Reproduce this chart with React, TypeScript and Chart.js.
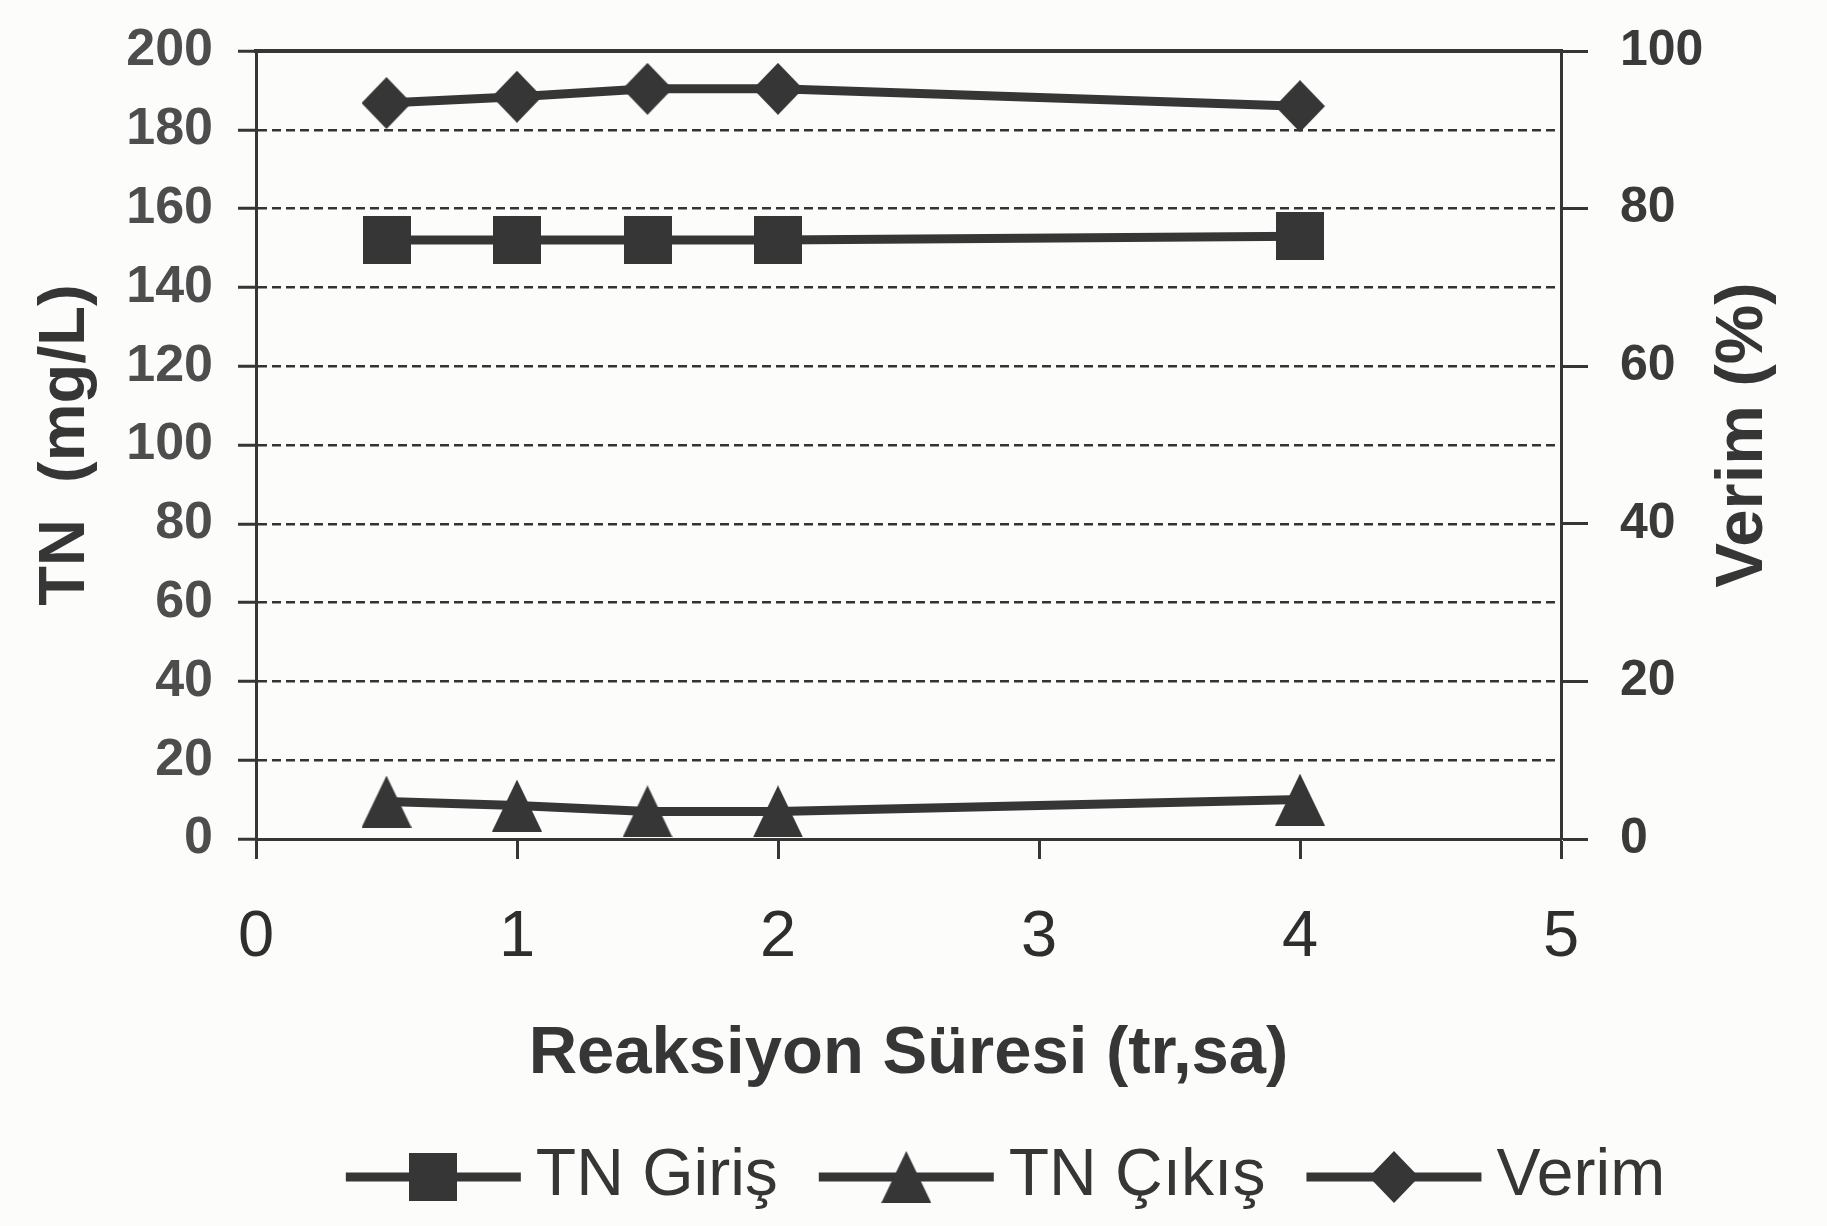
import React, { useEffect, useRef } from 'react';
import { Chart, registerables } from 'chart.js';

Chart.register(...registerables);

// ---- data ----
const times = [0.5, 1, 1.5, 2, 4];
const tnGiris = [152, 152, 152, 152, 153];
const tnCikis = [9.5, 8.5, 7, 7, 10];
const verim = [93.4, 94.2, 95.2, 95.2, 93];
const seriesLabels = ['TN Giriş', 'TN Çıkış', 'Verim'];
const xTitle = 'Reaksiyon Süresi (tr,sa)';
const yLeftTitle = 'TN  (mg/L)';
const yRightTitle = 'Verim (%)';
const xRange = [0, 5];
const yLeftRange = [0, 200];
const yRightRange = [0, 100];

const FONT = '"Liberation Sans", Arial, Helvetica, sans-serif';
const INK = '#363636';

function makeMarker(shape: string, w: number, h: number, color: string) {
  const c = document.createElement('canvas');
  c.width = w;
  c.height = h;
  const g = c.getContext('2d')!;
  g.fillStyle = color;
  g.beginPath();
  if (shape === 'square') {
    g.rect(0, 0, w, h);
  } else if (shape === 'triangle') {
    g.moveTo(w / 2, 0);
    g.lineTo(w, h);
    g.lineTo(0, h);
  } else {
    g.moveTo(w / 2, 0);
    g.lineTo(w, h / 2);
    g.lineTo(w / 2, h);
    g.lineTo(0, h / 2);
  }
  g.closePath();
  g.fill();
  return c;
}

const bgPlugin = {
  id: 'bg',
  beforeDraw(chart: any) {
    const { ctx } = chart;
    ctx.save();
    ctx.fillStyle = '#fcfcfb';
    ctx.fillRect(0, 0, chart.width, chart.height);
    ctx.restore();
  },
};

const framePlugin = {
  id: 'frameTop',
  beforeDatasetsDraw(chart: any) {
    const { ctx, chartArea } = chart;
    ctx.save();
    ctx.strokeStyle = INK;
    ctx.lineWidth = 4;
    ctx.beginPath();
    ctx.moveTo(chartArea.left - 2, chartArea.top);
    ctx.lineTo(chartArea.right + 2, chartArea.top);
    ctx.stroke();
    ctx.restore();
  },
};

const rightTitlePlugin = {
  id: 'rightTitle',
  afterDraw(chart: any) {
    const s = chart.scales.y1;
    const { ctx } = chart;
    ctx.save();
    ctx.translate(s.right - 83, (s.top + s.bottom) / 2 - 10);
    ctx.rotate(-Math.PI / 2);
    ctx.font = `bold 67px ${FONT}`;
    ctx.fillStyle = INK;
    ctx.textAlign = 'center';
    ctx.textBaseline = 'middle';
    ctx.fillText(yRightTitle, 0, 0);
    ctx.restore();
  },
};

const legendPlugin = {
  id: 'lineLegend',
  afterDraw(chart: any) {
    const { ctx } = chart;
    const symW = 175;
    const gapText = 15;
    const gapItem = 41;
    ctx.save();
    ctx.font = `66px ${FONT}`;
    const items = chart.data.datasets.map((ds: any) => ({
      label: ds.label,
      marker: ds.pointStyle,
      color: ds.borderColor,
      lw: ds.borderWidth,
    }));
    let total = 0;
    items.forEach((it: any, i: number) => {
      total += symW + gapText + ctx.measureText(it.label).width + (i < items.length - 1 ? gapItem : 0);
    });
    let x = chart.width / 2 + 92 - total / 2;
    const y = chart.height - 49;
    items.forEach((it: any) => {
      ctx.strokeStyle = it.color;
      ctx.lineWidth = it.lw;
      ctx.beginPath();
      ctx.moveTo(x, y);
      ctx.lineTo(x + symW, y);
      ctx.stroke();
      const m = it.marker as HTMLCanvasElement;
      ctx.drawImage(m, x + symW / 2 - m.width / 2, y - m.height / 2);
      x += symW + gapText;
      ctx.fillStyle = INK;
      ctx.textAlign = 'left';
      ctx.textBaseline = 'middle';
      ctx.fillText(it.label, x, y);
      x += ctx.measureText(it.label).width + gapItem;
    });
    ctx.restore();
  },
};

export default function App() {
  const ref = useRef<HTMLCanvasElement>(null);

  useEffect(() => {
    const square = makeMarker('square', 48, 48, INK);
    const triangle = makeMarker('triangle', 50, 52, INK);
    const diamond = makeMarker('diamond', 50, 52, INK);

    const mk = (vals: number[]) => times.map((t, i) => ({ x: t, y: vals[i] }));

    const chart = new Chart(ref.current!, {
      type: 'line',
      data: {
        datasets: [
          {
            label: seriesLabels[0],
            data: mk(tnGiris),
            yAxisID: 'y',
            borderColor: INK,
            backgroundColor: INK,
            borderWidth: 9,
            pointStyle: square as any,
            pointRadius: 24,
            tension: 0,
            fill: false,
          },
          {
            label: seriesLabels[1],
            data: mk(tnCikis),
            yAxisID: 'y',
            borderColor: INK,
            backgroundColor: INK,
            borderWidth: 9,
            pointStyle: triangle as any,
            pointRadius: 24,
            tension: 0,
            fill: false,
          },
          {
            label: seriesLabels[2],
            data: mk(verim),
            yAxisID: 'y1',
            borderColor: INK,
            backgroundColor: INK,
            borderWidth: 9,
            pointStyle: diamond as any,
            pointRadius: 24,
            tension: 0,
            fill: false,
          },
        ],
      },
      options: {
        responsive: false,
        animation: false,
        devicePixelRatio: 1,
        layout: { padding: { left: 0, right: 0, top: 51, bottom: 131 } },
        plugins: {
          legend: { display: false },
          tooltip: { enabled: false },
        },
        scales: {
          x: {
            type: 'linear',
            position: 'bottom',
            min: xRange[0],
            max: xRange[1],
            ticks: { stepSize: 1, font: { family: FONT, size: 65 }, color: '#2e2e2e', padding: 40 },
            grid: {
              drawOnChartArea: false,
              drawTicks: true,
              tickLength: 20,
              tickWidth: 3,
              tickColor: INK,
              color: INK,
            },
            border: { display: true, color: INK, width: 3 },
            title: {
              display: true,
              text: xTitle,
              font: { family: FONT, size: 67, weight: 'bold' },
              color: INK,
              padding: { top: 0, bottom: 0 },
            },
            afterFit: (s: any) => {
              s.height = 256;
            },
          },
          y: {
            position: 'left',
            min: yLeftRange[0],
            max: yLeftRange[1],
            ticks: {
              stepSize: 20,
              font: { family: FONT, size: 52, weight: 'bold', lineHeight: 0.75 },
              color: '#4d4d4d',
              padding: 25,
            },
            grid: {
              color: (c: any) =>
                c.tick && (c.tick.value === yLeftRange[0] || c.tick.value === yLeftRange[1]) ? 'rgba(0,0,0,0)' : '#333333',
              lineWidth: 2.5,
              tickLength: 18,
              tickColor: INK,
              tickWidth: 3,
              tickBorderDash: [],
            },
            border: { display: true, color: INK, width: 3, dash: [9, 5] },
            title: {
              display: true,
              text: yLeftTitle,
              font: { family: FONT, size: 65, weight: 'bold' },
              color: INK,
              padding: { top: 27, bottom: 0 },
            },
            afterFit: (s: any) => {
              s.width = 256;
            },
          },
          y1: {
            position: 'right',
            min: yRightRange[0],
            max: yRightRange[1],
            ticks: {
              stepSize: 20,
              font: { family: FONT, size: 50, weight: 'bold', lineHeight: 0.75 },
              color: '#3a3a3a',
              padding: 32,
            },
            grid: { drawOnChartArea: false, tickLength: 27, tickWidth: 3, tickColor: INK, color: INK },
            border: { display: true, color: INK, width: 3 },
            afterFit: (s: any) => {
              s.width = 266;
            },
          },
        },
      } as any,
      plugins: [bgPlugin, framePlugin, rightTitlePlugin, legendPlugin],
    });
    return () => chart.destroy();
  }, []);

  return (
    <canvas
      ref={ref}
      width={1827}
      height={1226}
      style={{ position: 'fixed', left: 0, top: 0, width: 1827, height: 1226, display: 'block' }}
    />
  );
}
